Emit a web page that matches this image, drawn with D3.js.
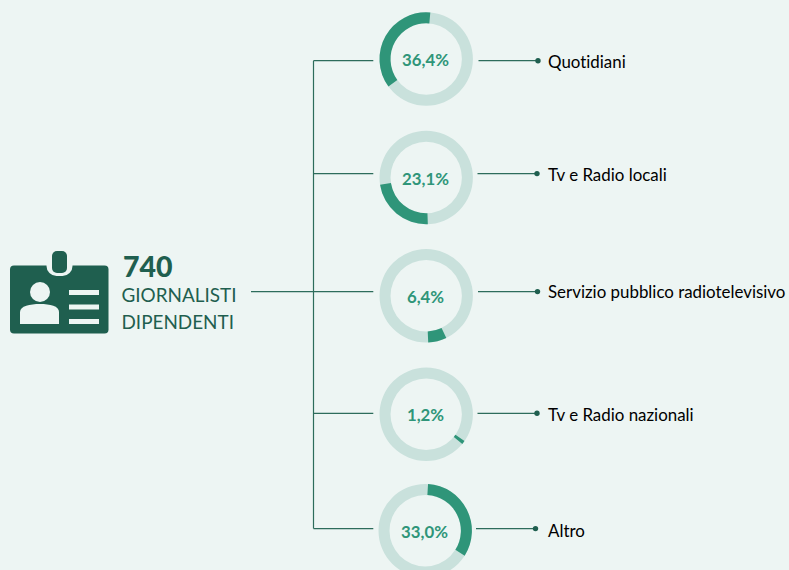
<!DOCTYPE html>
<html>
<head>
<meta charset="utf-8">
<script src="https://cdn.jsdelivr.net/npm/d3@7"></script>
<style>
  html, body { margin: 0; padding: 0; background: #edf5f3; }
  svg { display: block; font-family: Lato, sans-serif; font-variant-ligatures: none; }
</style>
</head>
<body>
<svg></svg>
<script>
// data
const categories = ["Quotidiani", "Tv e Radio locali", "Servizio pubblico radiotelevisivo", "Tv e Radio nazionali", "Altro"];
const shares = [36.4, 23.1, 6.4, 1.2, 33.0];
const shareLabels = ["36,4%", "23,1%", "6,4%", "1,2%", "33,0%"];
const totalValue = "740";
const totalLines = ["GIORNALISTI", "DIPENDENTI"];

// where each ring starts turning, in degrees from the top
const ringStart = [234, 178, 154.5, 125, 3.5];
// small offsets of the connectors and rings as they are in the picture
const lineShift = [1.7, -3.4, -3.4, 0.3, -2.4];
const labelShift = [3, -2, -3, 2, 0];
const ringShiftX = [0, 0, 0, 0, -1];
const ringShiftY = [0, 0.5, 0.8, 1.3, -0.3];
const rightShift = [1, 0, 0.5, 0, -1.5];

const width = 789;
const height = 570;
const dark = "#1f5f4f";
const lineColor = "#2d6c5b";
const mid = "#2f9579";
const light = "#c9e1dc";
const bg = "#edf5f3";

const svg = d3.select("svg").attr("width", width).attr("height", height);

const y = d3.scalePoint().domain(categories).range([59, 531]);
const angle = d3.scaleLinear().domain([0, 100]).range([0, 2 * Math.PI]);
const arc = d3.arc().innerRadius(35.7).outerRadius(46.7);

// connectors on the left
const trunkX = 313.5;
const branchEnd = 373.3;
const lineY = (d, i) => y(d) + lineShift[i];

const lines = svg.append("g").attr("stroke", lineColor).attr("stroke-width", 1.2).attr("fill", "none");
lines.append("line")
  .attr("x1", trunkX).attr("x2", trunkX)
  .attr("y1", lineY(categories[0], 0)).attr("y2", lineY(categories[4], 4));
lines.selectAll(".branch")
  .data(categories)
  .join("line")
  .attr("class", "branch")
  .attr("x1", (d, i) => (i === 2 ? 251 : trunkX))
  .attr("x2", branchEnd)
  .attr("y1", lineY)
  .attr("y2", lineY);

// one ring per category
const ring = svg.selectAll(".ring")
  .data(categories)
  .join("g")
  .attr("class", "ring")
  .attr("transform", (d, i) => `translate(${426.2 + ringShiftX[i]},${y(d) + ringShiftY[i]})`);

ring.append("path")
  .attr("fill", light)
  .attr("d", arc({ startAngle: 0, endAngle: 2 * Math.PI }));

ring.append("path")
  .attr("fill", mid)
  .attr("d", (d, i) => {
    const start = (ringStart[i] * Math.PI) / 180;
    return arc({ startAngle: start, endAngle: start + angle(shares[i]) });
  });

ring.append("text")
  .attr("text-anchor", "middle")
  .attr("x", -0.7)
  .attr("y", 7)
  .attr("fill", mid)
  .attr("font-size", 16.8)
  .attr("font-weight", 700)
  .text((d, i) => shareLabels[i]);

// connectors on the right, with the dot and the label
const right = svg.selectAll(".right")
  .data(categories)
  .join("g")
  .attr("class", "right");

right.append("line")
  .attr("x1", (d, i) => 477.5 + rightShift[i])
  .attr("x2", (d, i) => 537 + rightShift[i])
  .attr("y1", lineY)
  .attr("y2", lineY)
  .attr("stroke", lineColor)
  .attr("stroke-width", 1.2);

right.append("circle")
  .attr("cx", (d, i) => 537 + rightShift[i])
  .attr("cy", lineY)
  .attr("r", 2.7)
  .attr("fill", dark);

right.append("text")
  .attr("x", 548)
  .attr("y", (d, i) => y(d) + labelShift[i] + 6)
  .attr("fill", "#000")
  .attr("font-size", 16.9)
  .text(d => d);

// badge icon
const icon = svg.append("g").attr("fill", dark);
icon.append("rect").attr("x", 10).attr("y", 265.5).attr("width", 98.5).attr("height", 68).attr("rx", 4);
icon.append("rect").attr("x", 46.5).attr("y", 255).attr("width", 26).attr("height", 21).attr("rx", 10).attr("fill", bg);
icon.append("rect").attr("x", 52).attr("y", 251).attr("width", 15).attr("height", 22).attr("rx", 5);
icon.append("circle").attr("cx", 40).attr("cy", 292).attr("r", 10).attr("fill", bg);
icon.append("path").attr("fill", bg)
  .attr("d", "M20,324 V312 C20,306 30,304 40,304 C50,304 59,306 59,312 V324 Z");
icon.selectAll(".bar")
  .data([290, 304.5, 319])
  .join("rect")
  .attr("class", "bar")
  .attr("x", 69).attr("y", d => d)
  .attr("width", 30).attr("height", 5)
  .attr("fill", bg);

// total
svg.append("text")
  .attr("x", 123).attr("y", 277)
  .attr("fill", dark)
  .attr("font-size", 28.5)
  .attr("font-weight", 900)
  .text(totalValue);

svg.selectAll(".total")
  .data(totalLines)
  .join("text")
  .attr("class", "total")
  .attr("x", 121.5)
  .attr("y", (d, i) => 302 + i * 26.5)
  .attr("fill", dark)
  .attr("font-size", 18.9)
  .text(d => d);
</script>
</body>
</html>
